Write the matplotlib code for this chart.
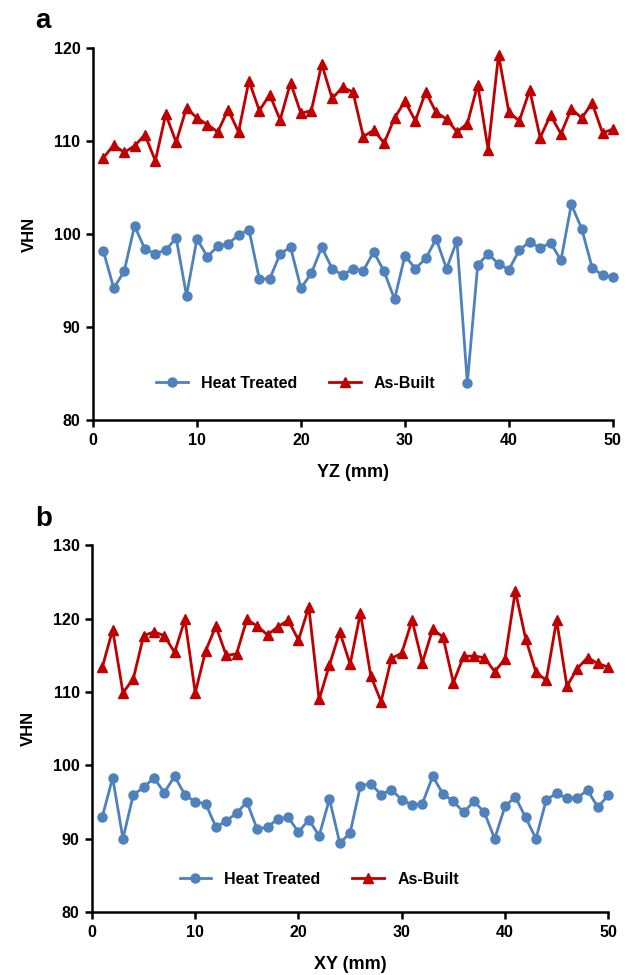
import matplotlib
matplotlib.use("Agg")
import matplotlib.pyplot as plt

plt.rcParams['font.family'] = ['Liberation Sans', 'DejaVu Sans']
plt.rcParams['font.weight'] = 'bold'

x = list(range(1, 51))

# panel a (YZ)
yz_heat = [98.2, 94.2, 96.0, 100.9, 98.4, 97.9, 98.3, 99.6, 93.4, 99.5,
           97.6, 98.7, 99.0, 99.9, 100.5, 95.2, 95.2, 97.9, 98.6, 94.2,
           95.8, 98.6, 96.3, 95.6, 96.3, 96.1, 98.1, 96.0, 93.0, 97.7,
           96.3, 97.4, 99.5, 96.3, 99.3, 84.0, 96.7, 97.9, 96.8, 96.2,
           98.3, 99.2, 98.5, 99.1, 97.2, 103.2, 100.6, 96.4, 95.6, 95.4]
yz_built = [108.2, 109.6, 108.8, 109.5, 110.7, 107.9, 112.9, 109.9, 113.6, 112.5,
            111.8, 111.0, 113.4, 111.0, 116.5, 113.3, 115.0, 112.3, 116.3, 113.0,
            113.3, 118.3, 114.6, 115.8, 115.3, 110.5, 111.2, 109.8, 112.5, 114.3,
            112.2, 115.3, 113.1, 112.4, 111.0, 111.9, 116.1, 109.1, 119.3, 113.1,
            112.2, 115.5, 110.4, 112.8, 110.8, 113.5, 112.5, 114.1, 110.9, 111.3]

# panel b (XY)
xy_heat = [93.0, 98.3, 90.0, 96.0, 97.0, 98.3, 96.3, 98.5, 96.0, 95.0,
           94.8, 91.6, 92.4, 93.5, 95.0, 91.3, 91.6, 92.7, 92.9, 90.9,
           92.6, 90.4, 95.4, 89.4, 90.8, 97.2, 97.5, 96.0, 96.7, 95.3,
           94.6, 94.8, 98.5, 96.1, 95.1, 93.6, 95.1, 93.6, 90.0, 94.4,
           95.7, 92.9, 90.0, 95.3, 96.2, 95.5, 95.6, 96.6, 94.3, 95.9]
xy_built = [113.4, 118.5, 109.9, 111.8, 117.7, 118.2, 117.7, 115.4, 119.9, 109.9,
            115.6, 119.0, 115.0, 115.2, 119.9, 119.0, 117.8, 118.9, 119.8, 117.1,
            121.6, 109.0, 113.7, 118.2, 113.8, 120.8, 112.2, 108.7, 114.6, 115.3,
            119.8, 114.0, 118.6, 117.5, 111.3, 114.9, 114.9, 114.7, 112.8, 114.5,
            123.8, 117.3, 112.7, 111.6, 119.8, 110.8, 113.2, 114.7, 113.9, 113.4]

blue = '#4F81BD'
red = '#C00000'

fig = plt.figure(figsize=(6.28, 9.75), dpi=100)
ax_a = fig.add_axes([0.148, 0.569, 0.828, 0.3815])
ax_b = fig.add_axes([0.1465, 0.0646, 0.822, 0.376])


def style_panel(ax, heat, built, ylim, xlabel, leg_anchor):
    ax.plot(x, heat, color=blue, lw=2, marker='o', ms=6.5, label='Heat Treated', clip_on=False)
    ax.plot(x, built, color=red, lw=2, marker='^', ms=7, label='As-Built', clip_on=False)
    ax.set_xlim(0, 50)
    ax.set_ylim(*ylim)
    ax.set_xticks(range(0, 51, 10))
    ax.set_yticks(range(ylim[0], ylim[1] + 1, 10))
    for s in ['top', 'right']:
        ax.spines[s].set_visible(False)
    for s in ['left', 'bottom']:
        ax.spines[s].set_linewidth(1.8)
    ax.tick_params(axis='both', direction='out', length=5, width=1.8,
                   labelsize=11.5, pad=4)
    for lab in ax.get_xticklabels() + ax.get_yticklabels():
        lab.set_fontweight('bold')
    ax.set_ylabel('VHN', fontsize=12, fontweight='bold', labelpad=12)
    ax.set_xlabel(xlabel, fontsize=13, fontweight='bold', labelpad=12)
    ax.legend(loc='center', bbox_to_anchor=leg_anchor, ncol=2, frameon=False,
              handlelength=2.0, columnspacing=2.0,
              prop={'weight': 'bold', 'size': 11.5})


style_panel(ax_a, yz_heat, yz_built, (80, 120), 'YZ (mm)', (0.39, 0.1))
style_panel(ax_b, xy_heat, xy_built, (80, 130), 'XY (mm)', (0.44, 0.09))

fig.text(0.056, 0.978, 'a', fontsize=20, fontweight='bold', va='center')
fig.text(0.056, 0.468, 'b', fontsize=20, fontweight='bold', va='center')

fig.savefig('out.png', dpi=100)
